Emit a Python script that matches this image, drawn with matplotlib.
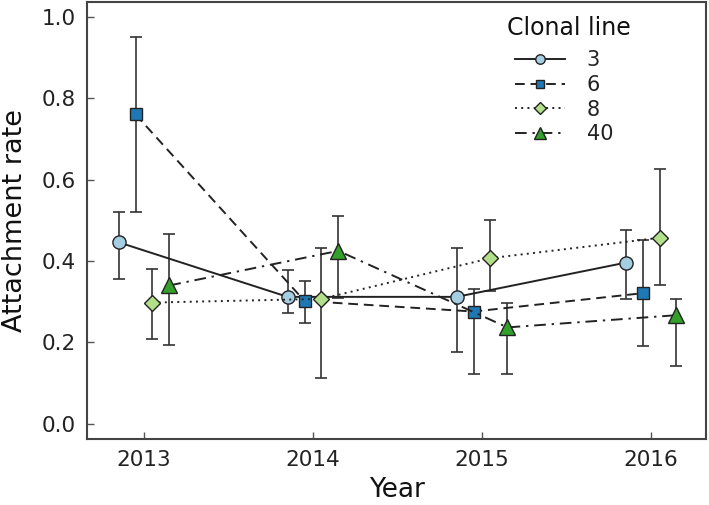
import matplotlib
matplotlib.use("Agg")
import matplotlib.pyplot as plt
import numpy as np

years = [2013, 2014, 2015, 2016]
lines = ["3", "6", "8", "40"]

rate_3 = [0.446, 0.312, 0.312, 0.396]
lo_3 = [0.357, 0.272, 0.177, 0.307]
hi_3 = [0.521, 0.377, 0.432, 0.476]

rate_6 = [0.760, 0.302, 0.276, 0.321]
lo_6 = [0.521, 0.247, 0.123, 0.192]
hi_6 = [0.950, 0.352, 0.332, 0.452]

rate_8 = [0.298, 0.307, 0.407, 0.457]
lo_8 = [0.208, 0.113, 0.327, 0.342]
hi_8 = [0.381, 0.432, 0.501, 0.626]

rate_40 = [0.340, 0.425, 0.237, 0.267]
lo_40 = [0.193, 0.309, 0.123, 0.143]
hi_40 = [0.466, 0.511, 0.298, 0.307]

series = [
    (rate_3, lo_3, hi_3),
    (rate_6, lo_6, hi_6),
    (rate_8, lo_8, hi_8),
    (rate_40, lo_40, hi_40),
]

offsets = [-0.15, -0.05, 0.05, 0.15]
colors = ["#a6cee3", "#1f78b4", "#b2df8a", "#33a02c"]
markers = ["o", "s", "D", "^"]
msizes = [9.5, 8.5, 8.5, 12]
linestyles = ["-", (0, (5, 3)), (0, (1, 2.2)), (0, (6, 3, 1.2, 3))]

plt.rcParams["font.family"] = ["DejaVu Sans"]

fig = plt.figure(figsize=(7.09, 5.05), dpi=100)
ax = fig.add_axes([87 / 709, 1 - 439 / 505, (706 - 87) / 709, (439 - 2) / 505])

handles = []
for (vals, lo, hi), off, c, m, ms, ls, lab in zip(series, offsets, colors, markers, msizes, linestyles, lines):
    x = np.array(years) + off
    v = np.array(vals)
    yerr = np.vstack([v - np.array(lo), np.array(hi) - v])
    ax.errorbar(x, v, yerr=yerr, fmt="none", ecolor="#333333", elinewidth=1.2,
                capsize=4.3, capthick=1.2, zorder=2)
    h, = ax.plot(x, v, linestyle=ls, color="#222222", lw=1.4, marker=m, ms=ms,
                 markerfacecolor=c, markeredgecolor="#222222", markeredgewidth=1.0,
                 label=lab, zorder=3)
    handles.append(h)

ax.set_xlim(2013 - 0.337, 2016 + 0.325)
ax.set_ylim(-0.037, 1.036)
ax.set_xticks(years)
ax.set_xticklabels([str(y) for y in years])
ax.set_yticks([0.0, 0.2, 0.4, 0.6, 0.8, 1.0])
ax.set_yticklabels(["0.0", "0.2", "0.4", "0.6", "0.8", "1.0"])
ax.tick_params(direction="in", length=5, width=1, color="#555555", labelsize=15.5,
               labelcolor="#222222", pad=8)
for s in ax.spines.values():
    s.set_color("#444444")
    s.set_linewidth(1.5)

ax.set_xlabel("Year", fontsize=19, color="#111111", labelpad=5)
ax.set_ylabel("Attachment rate", fontsize=19.5, color="#111111", labelpad=10)

fig.text(507 / 709, 1 - 16 / 505, "Clonal line", fontsize=17, color="#111111",
         ha="left", va="top")
leg = ax.legend(handles=handles, frameon=False,
                loc="upper left", bbox_to_anchor=(515 / 709, 1 - 50 / 505),
                bbox_transform=fig.transFigure, fontsize=15,
                handlelength=2.4, labelspacing=0.23, handletextpad=1.05,
                borderaxespad=0, borderpad=0, markerscale=0.72)
for t in leg.get_texts():
    t.set_color("#222222")

fig.savefig("out.png", dpi=100)
